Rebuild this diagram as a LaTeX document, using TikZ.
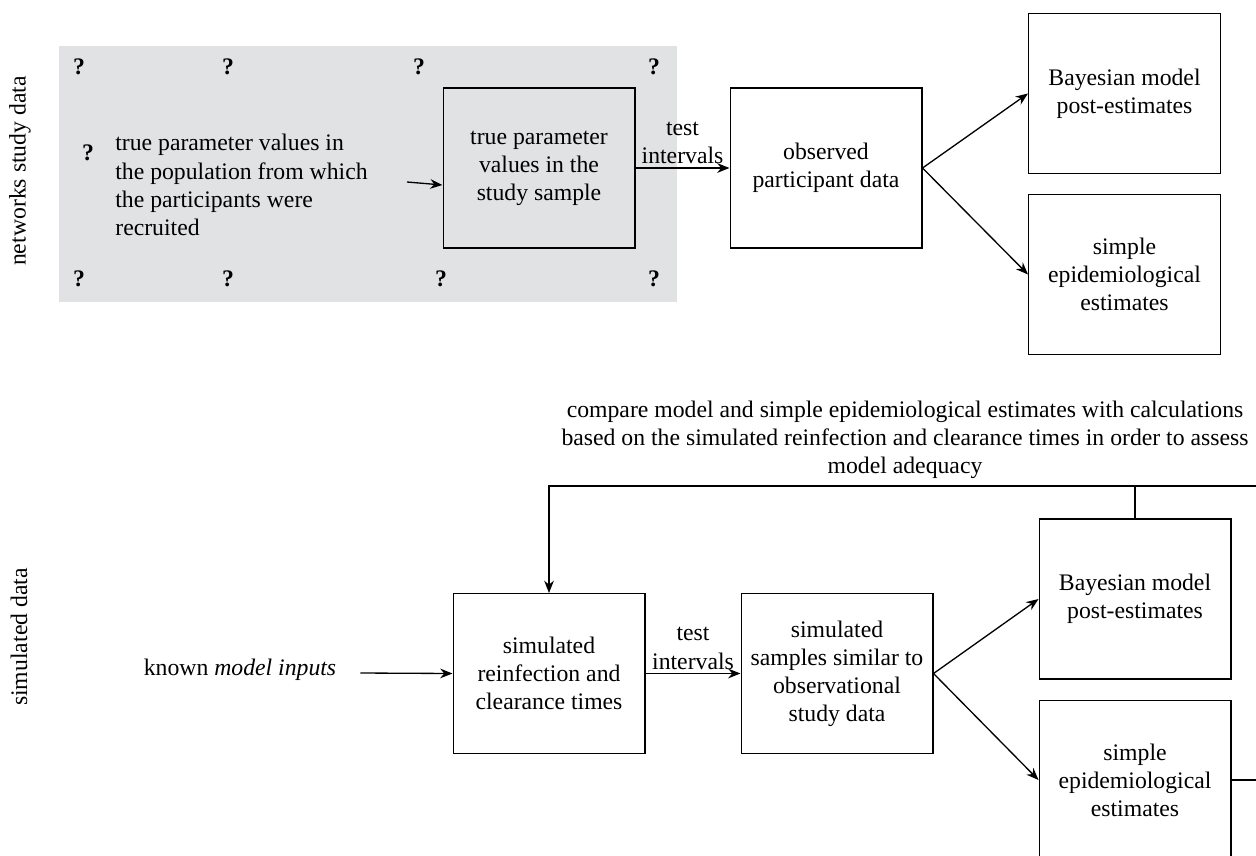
\documentclass[tikz,border=0pt]{standalone}
\usepackage{fontspec}
\setmainfont{Liberation Serif}
\usetikzlibrary{arrows.meta,positioning}
\definecolor{panelgray}{HTML}{E1E2E4}

\begin{document}
\begin{tikzpicture}[x=0.02cm,y=-0.02cm,
    every node/.append style={font=\fontsize{13.5}{16}\selectfont},
    box/.style={draw,line width=0.6pt,minimum width=3.84cm,minimum height=3.2cm,align=center,inner sep=0pt},
    qm/.style={font=\fontsize{13.5}{16}\selectfont\bfseries},
    arr/.style={-{Stealth[length=7pt,width=5.5pt]},line width=0.75pt}]
    \clip (0,0) rectangle (1256,855);
    \fill[panelgray] (59,46) rectangle (677,302);
    \foreach \qx/\qy [count=\qi] in {79/67,228/67,419/67,654/67,88/153,79/279,228/279,441/279,654/279}
        \node[qm] (q\qi) at (\qx,\qy) {?};
    \node[rotate=90] (netlab) at (20,171) {networks study data};
    \node[rotate=90] (simlab) at (19,637) {simulated data};
    %top row
    \node[anchor=west,align=left,inner sep=0pt] (poptext) at (115,185) {true parameter values in\\the population from which\\the participants were\\recruited};
    \node[box] (sample) at (539,168) {true parameter\\values in the\\study sample};
    \node[box] (observed) at (826,168) {observed\\participant data};
    \node[box] (bayesA) at (1124.5,93.5) {Bayesian model\\post-estimates};
    \node[box] (simpleA) at (1124.5,274.5) {simple\\epidemiological\\estimates};
    \draw[arr] ([xshift=0.78cm,yshift=0.06cm]poptext.east) -- ([yshift=-0.34cm]sample.west);
    \draw[arr] (sample) -- node[midway,above,align=center,inner sep=2pt] (testA) {test\\intervals} (observed);
    \draw[arr] (observed.east) -- (bayesA.west);
    \draw[arr] (observed.east) -- (simpleA.west);
    %bottom row
    \node[align=center] (compare) at (905,440) {compare model and simple epidemiological estimates with calculations\\based on the simulated reinfection and clearance times in order to assess\\model adequacy};
    \node (known) at (240,670) {known \textit{model inputs}};
    \node[box] (simrc) at (549,673.5) {simulated\\reinfection and\\clearance times};
    \node[box] (simsamp) at (837,673.5) {simulated\\samples similar to\\observational\\study data};
    \node[box] (bayesB) at (1135,599) {Bayesian model\\post-estimates};
    \node[box] (simpleB) at (1135,780) {simple\\epidemiological\\estimates};
    \coordinate (fbtop) at (1256,486);
    \coordinate (fbside) at (1256,780);
    \draw[arr] ([xshift=0.36cm,yshift=-0.06cm]known.east) -- (simrc.west);
    \draw[arr] (simrc) -- node[midway,above,align=center,inner sep=2pt] (testB) {test\\intervals} (simsamp);
    \draw[arr] (simsamp.east) -- (bayesB.west);
    \draw[arr] (simsamp.east) -- (simpleB.west);
    \draw[line width=0.75pt] (bayesB.north) -- (bayesB.north |- fbtop);
    \draw[arr] (fbtop) -- (simrc.north |- fbtop) -- (simrc.north);
    \draw[line width=0.6pt] (simpleB.east) -- (fbside);
\end{tikzpicture}
\end{document}
